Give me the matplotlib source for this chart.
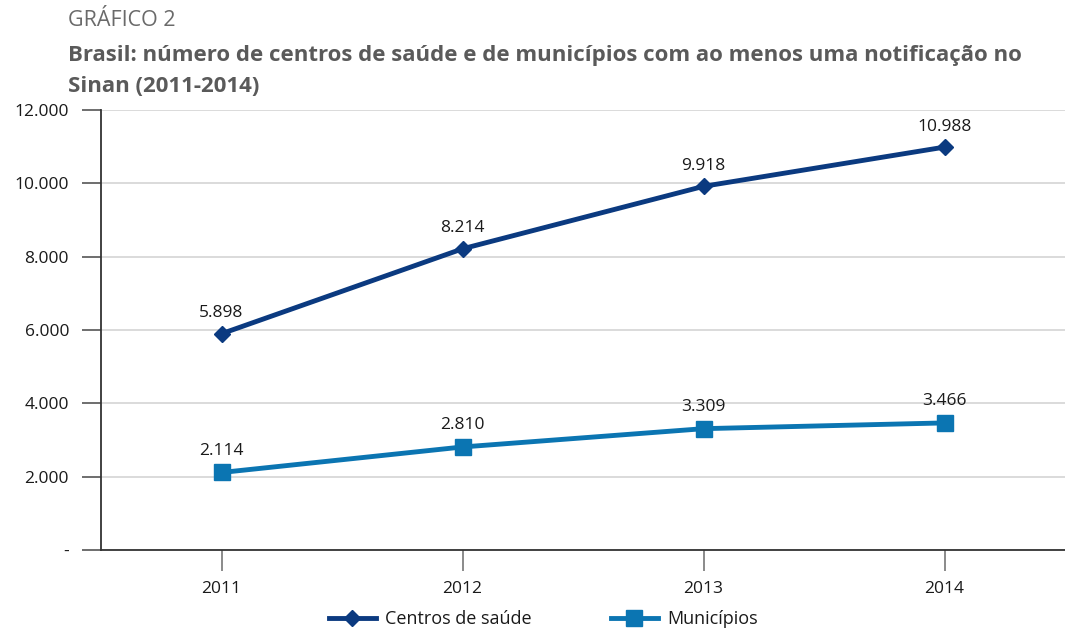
import matplotlib
matplotlib.use("Agg")
import matplotlib.pyplot as plt
from matplotlib.ticker import FuncFormatter

years = ["2011", "2012", "2013", "2014"]
centros = [5898, 8214, 9918, 10988]
municipios = [2114, 2810, 3309, 3466]
yticks = [0, 2000, 4000, 6000, 8000, 10000, 12000]

plt.rcParams['font.family'] = ['Open Sans', 'DejaVu Sans']

C1 = "#0b3a80"
C2 = "#0b75b2"
TXT = "#1a1a1a"

fig = plt.figure(figsize=(10.65, 6.3), dpi=100)
ax = fig.add_axes([101/1065, 1 - 550/630, 964/1065, 440/630])

x = list(range(len(years)))
ax.plot(x, centros, color=C1, lw=3.5, marker="D", ms=8, label="Centros de saúde", zorder=3)
ax.plot(x, municipios, color=C2, lw=3.5, marker="s", ms=12, label="Municípios", zorder=3)

def fmt(v):
    return f"{v:,}".replace(",", ".")

for xi, v in zip(x, centros):
    ax.annotate(fmt(v), (xi, v), xytext=(0, 9), textcoords="offset points",
                ha="center", va="bottom", fontsize=12.5, color=TXT)
for xi, v in zip(x, municipios):
    ax.annotate(fmt(v), (xi, v), xytext=(0, 10), textcoords="offset points",
                ha="center", va="bottom", fontsize=12.5, color=TXT)

ax.set_xlim(-0.5, 3.5)
ax.set_ylim(0, 12000)
ax.set_yticks(yticks)
ax.yaxis.set_major_formatter(FuncFormatter(lambda v, p: "-" if v == 0 else fmt(int(v))))
ax.set_xticks(x)
ax.set_xticklabels(years)
ax.tick_params(axis="y", length=14, width=1.2, color="#555555", labelsize=12.5, labelcolor=TXT, pad=9)
ax.tick_params(axis="x", length=15, width=1.2, color="#777777", labelsize=12.5, labelcolor=TXT, pad=7)
ax.grid(axis="y", color="#d4d4d4", lw=1.2)
ax.set_axisbelow(True)
for s in ["top", "right"]:
    ax.spines[s].set_visible(False)
for s in ["left", "bottom"]:
    ax.spines[s].set_color("#333333")
    ax.spines[s].set_linewidth(1.3)

leg = fig.legend(loc="center", bbox_to_anchor=(0.51, 1 - 619/630), ncol=2, frameon=False,
                 fontsize=13, handlelength=2.6, columnspacing=4.4, handletextpad=0.5)
for t in leg.get_texts():
    t.set_color(TXT)

fig.text(68/1065, 1 - 20/630, "GRÁFICO 2", fontsize=15.5, color="#6a6a6a", va="center", ha="left")
fig.text(68/1065, 1 - 55/630, "Brasil: número de centros de saúde e de municípios com ao menos uma notificação no",
         fontsize=16, fontweight="bold", color="#5a5a5a", va="center", ha="left")
fig.text(68/1065, 1 - 87/630, "Sinan (2011-2014)",
         fontsize=16, fontweight="bold", color="#5a5a5a", va="center", ha="left")

fig.savefig("out.png", dpi=100)
